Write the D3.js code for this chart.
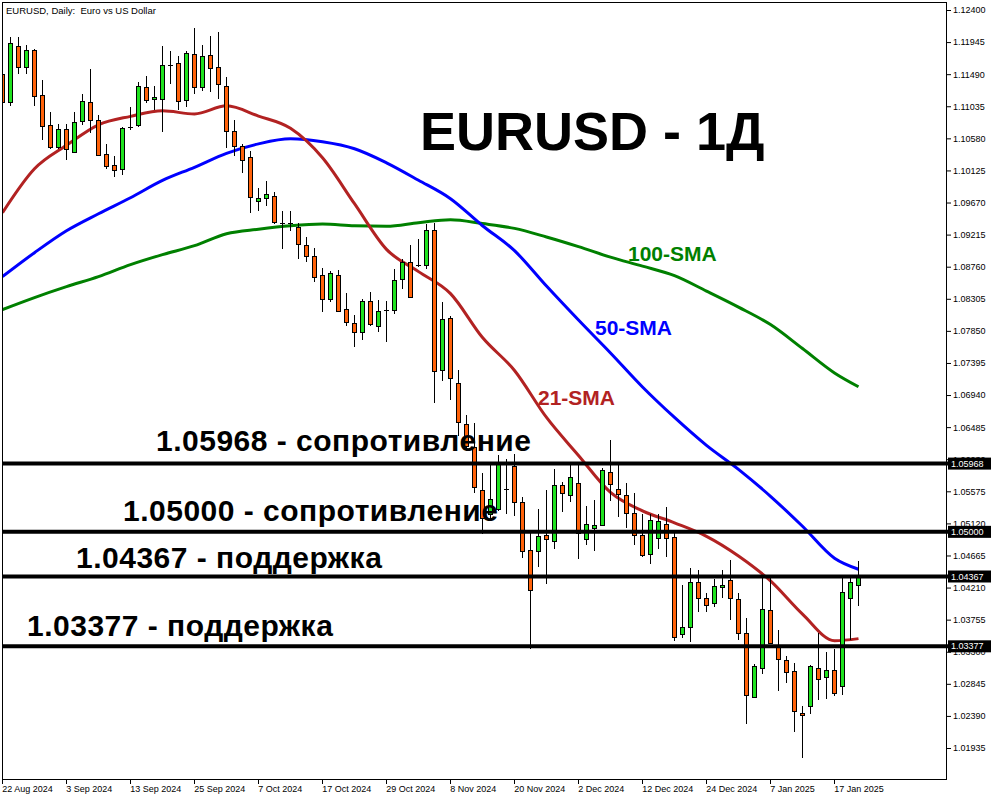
<!DOCTYPE html>
<html><head><meta charset="utf-8">
<script src="https://cdn.jsdelivr.net/npm/d3@7"></script>
<style>body{margin:0;background:#fff}svg{display:block}</style>
</head><body>
<svg id="c" width="1000" height="800"></svg>
<script>
// ---------- DATA ----------
const dates = [
"2024-08-22","2024-08-23","2024-08-26","2024-08-27","2024-08-28","2024-08-29","2024-08-30",
"2024-09-02","2024-09-03","2024-09-04","2024-09-05","2024-09-06","2024-09-09","2024-09-10","2024-09-11","2024-09-12","2024-09-13",
"2024-09-16","2024-09-17","2024-09-18","2024-09-19","2024-09-20","2024-09-23","2024-09-24","2024-09-25","2024-09-26","2024-09-27","2024-09-30",
"2024-10-01","2024-10-02","2024-10-03","2024-10-04","2024-10-07","2024-10-08","2024-10-09","2024-10-10","2024-10-11",
"2024-10-14","2024-10-15","2024-10-16","2024-10-17","2024-10-18","2024-10-21","2024-10-22","2024-10-23","2024-10-24","2024-10-25",
"2024-10-28","2024-10-29","2024-10-30","2024-10-31",
"2024-11-01","2024-11-04","2024-11-05","2024-11-06","2024-11-07","2024-11-08","2024-11-11","2024-11-12","2024-11-13","2024-11-14","2024-11-15",
"2024-11-18","2024-11-19","2024-11-20","2024-11-21","2024-11-22","2024-11-25","2024-11-26","2024-11-27","2024-11-28","2024-11-29",
"2024-12-02","2024-12-03","2024-12-04","2024-12-05","2024-12-06","2024-12-09","2024-12-10","2024-12-11","2024-12-12","2024-12-13",
"2024-12-16","2024-12-17","2024-12-18","2024-12-19","2024-12-20","2024-12-23","2024-12-24","2024-12-26","2024-12-27","2024-12-30","2024-12-31",
"2025-01-02","2025-01-03","2025-01-06","2025-01-07","2025-01-08","2025-01-09","2025-01-10","2025-01-13","2025-01-14","2025-01-15","2025-01-16","2025-01-17",
"2025-01-20","2025-01-21","2025-01-22"];

const opens = [
1.11494,1.11101,1.11886,1.11597,1.11829,1.11192,1.10767,1.10464,1.10711,1.10393,
1.10824,1.11093,1.10838,1.10357,1.10205,1.10139,1.10739,1.10767,1.11305,1.11135,
1.11144,1.11617,1.11649,1.11121,1.11777,1.11305,1.11759,1.11589,1.11320,1.10682,
1.10470,1.10314,1.09691,1.09733,1.09766,1.09374,1.09384,1.09323,1.09068,1.08912,
1.08643,1.08303,1.08643,1.08162,1.07963,1.07836,1.08275,1.07921,1.08147,1.08147,
1.08586,1.08827,1.08782,1.08785,1.09280,1.07298,1.08034,1.07114,1.06523,1.06207,
1.05599,1.05249,1.05329,1.05603,1.05933,1.05429,1.04749,1.04735,1.04961,1.04876,
1.05669,1.05528,1.05698,1.04905,1.05060,1.05103,1.05853,1.05613,1.05528,1.05273,
1.04961,1.04692,1.04919,1.05117,1.04933,1.03545,1.03644,1.04296,1.04055,1.03998,
1.04225,1.04324,1.04041,1.03559,1.02653,1.03064,1.03885,1.03389,1.03177,1.03021,
1.02426,1.02526,1.03064,1.02936,1.03035,1.02809,1.04055,1.04253];
const highs = [
1.11550,1.12022,1.12022,1.11904,1.11848,1.11409,1.10956,1.10781,1.10781,1.10956,
1.11210,1.11564,1.10909,1.10502,1.10333,1.10747,1.11022,1.11385,1.11461,1.11324,
1.11894,1.11819,1.11749,1.11819,1.12141,1.11904,1.12032,1.12088,1.11447,1.10842,
1.10498,1.10403,1.09875,1.09974,1.09818,1.09554,1.09554,1.09380,1.09186,1.09025,
1.08742,1.08704,1.08718,1.08388,1.08077,1.08307,1.08402,1.08289,1.08279,1.08728,
1.08870,1.09072,1.09153,1.09370,1.09380,1.08261,1.08062,1.07298,1.06651,1.06547,
1.05839,1.05943,1.06084,1.06028,1.06108,1.05489,1.05004,1.05329,1.05599,1.05896,
1.05712,1.05967,1.05981,1.05372,1.05457,1.05910,1.06307,1.05967,1.05698,1.05556,
1.05259,1.05259,1.05259,1.05358,1.05004,1.04243,1.04494,1.04466,1.04126,1.04328,
1.04466,1.04607,1.04126,1.03772,1.03120,1.04367,1.04367,1.03602,1.03234,1.03135,
1.02526,1.03106,1.03559,1.03290,1.03333,1.04367,1.04367,1.04593];
const lows = [
1.11069,1.11041,1.11494,1.11494,1.11041,1.10559,1.10422,1.10422,1.10266,1.10371,
1.10771,1.10662,1.10323,1.10139,1.10025,1.10054,1.10696,1.10739,1.11087,1.10984,
1.10677,1.11348,1.10984,1.11031,1.11210,1.11257,1.11243,1.11140,1.10450,1.10323,
1.10082,1.09521,1.09544,1.09615,1.09365,1.09011,1.09261,1.08874,1.08827,1.08544,
1.08119,1.08255,1.08119,1.07915,1.07624,1.07717,1.07921,1.07830,1.07689,1.08085,
1.08445,1.08315,1.08756,1.08728,1.06830,1.07136,1.06867,1.06353,1.06169,1.05556,
1.04966,1.05178,1.05291,1.05249,1.05225,1.04636,1.03337,1.04502,1.04267,1.04763,
1.05287,1.05429,1.04621,1.04820,1.04735,1.05079,1.05443,1.05216,1.05060,1.04820,
1.04650,1.04551,1.04763,1.04650,1.03455,1.03493,1.03432,1.03857,1.03857,1.03928,
1.04069,1.03743,1.03460,1.02271,1.02639,1.02979,1.03408,1.02746,1.02851,1.02157,
1.01798,1.02412,1.02611,1.02625,1.02667,1.02681,1.03460,1.03942];
const closes = [
1.11097,1.11928,1.11597,1.11829,1.11186,1.10762,1.10464,1.10711,1.10432,1.10810,
1.11107,1.10847,1.10337,1.10187,1.10130,1.10729,1.10739,1.11320,1.11121,1.11164,
1.11617,1.11617,1.11111,1.11791,1.11305,1.11749,1.11574,1.11348,1.10682,1.10470,
1.10272,1.09748,1.09728,1.09790,1.09388,1.09374,1.09384,1.09082,1.08912,1.08615,
1.08303,1.08666,1.08133,1.07978,1.07836,1.08275,1.07944,1.08133,1.08147,1.08572,
1.08827,1.08329,1.08782,1.09280,1.07284,1.08020,1.07185,1.06561,1.06212,1.05641,
1.05192,1.05461,1.05967,1.05603,1.05429,1.04735,1.04182,1.04947,1.04905,1.05669,
1.05556,1.05783,1.04990,1.05117,1.05103,1.05882,1.05683,1.05542,1.05273,1.04961,
1.04678,1.05174,1.05160,1.04919,1.03503,1.03644,1.04296,1.04069,1.03956,1.04239,
1.04253,1.04055,1.03559,1.02681,1.03092,1.03913,1.03418,1.03191,1.03007,1.02455,
1.02398,1.03092,1.02908,1.03035,1.02710,1.04154,1.04282,1.04367];

// moving averages read at these bar indices
const smaIdx = [0,4,8,12,16,20,24,28,32,36,40,44,48,52,56,60,64,68,72,76,80,84,88,92,96,100,104,107];
const sma21  = [1.09525,1.10148,1.10481,1.10772,1.10892,1.10970,1.10927,1.11041,1.10895,1.10722,
                1.10304,1.09653,1.09006,1.08690,1.08378,1.07755,1.07288,1.06622,1.06084,1.05560,
                1.05298,1.05128,1.04937,1.04658,1.04304,1.03833,1.03457,1.03486];
const sma50  = [1.08619,1.08959,1.09270,1.09511,1.09738,1.09983,1.10170,1.10368,1.10502,1.10573,
                1.10531,1.10432,1.10233,1.09986,1.09724,1.09341,1.08987,1.08485,1.08003,1.07536,
                1.07054,1.06622,1.06226,1.05886,1.05504,1.05079,1.04626,1.04470];
const sma100 = [1.08152,1.08322,1.08477,1.08619,1.08789,1.08931,1.09058,1.09228,1.09292,1.09341,
                1.09365,1.09341,1.09334,1.09384,1.09426,1.09372,1.09303,1.09181,1.09044,1.08895,
                1.08768,1.08633,1.08414,1.08187,1.07939,1.07599,1.07253,1.07057];

const yTicks = [1.12400,1.11945,1.11490,1.11035,1.10580,1.10125,1.09670,1.09215,1.08760,1.08305,
                1.07850,1.07395,1.06940,1.06485,1.06030,1.05575,1.05120,1.04665,1.04210,1.03755,
                1.03300,1.02845,1.02390,1.01935];
const xTickIdx = [0,8,16,24,32,40,48,56,64,72,80,88,96,104];
const xTickLabels = ["22 Aug 2024","3 Sep 2024","13 Sep 2024","25 Sep 2024","7 Oct 2024","17 Oct 2024",
  "29 Oct 2024","8 Nov 2024","20 Nov 2024","2 Dec 2024","12 Dec 2024","24 Dec 2024","7 Jan 2025","17 Jan 2025"];

const levels = [1.05968, 1.05000, 1.04367, 1.03377];
const levelLabels = ["1.05968 - сопротивление","1.05000 - сопротивление","1.04367 - поддержка","1.03377 - поддержка"];
const smaNames = ["21-SMA","50-SMA","100-SMA"];
const chartTitle = "EURUSD - 1Д";
const chartSubtitle = "EURUSD, Daily:  Euro vs US Dollar";

// ---------- STYLE / LAYOUT ----------
const BULL = "#1fe21f", BEAR = "#ff620a";
const SMA_COLORS = ["#b22222", "#0000ff", "#008000"];
const levelLabelPos = [[156, 440], [123, 510], [76, 557], [27, 625]];
const smaLabelPos = [[538, 397], [595, 327], [628, 253]];

const svg = d3.select("#c");
svg.append("rect").attr("width", 1000).attr("height", 800).attr("fill", "#fff");

const x = d3.scaleBand().domain(dates).range([-1.5, -1.5 + 8 * dates.length]).padding(0);
const cx = d => x(d) + x.bandwidth() / 2;
const y = d3.scaleLinear().domain([1.12400, 1.01935]).range([10, 748]);

svg.append("defs").append("clipPath").attr("id", "plot")
  .append("rect").attr("x", 3).attr("y", 3).attr("width", 943).attr("height", 776);
const g = svg.append("g").attr("clip-path", "url(#plot)");

// moving averages
const line = d3.line().x(p => cx(dates[p[0]])).y(p => y(p[1])).curve(d3.curveMonotoneX);
[[sma100, SMA_COLORS[2]], [sma50, SMA_COLORS[1]], [sma21, SMA_COLORS[0]]].forEach(([arr, col]) => {
  g.append("path").datum(smaIdx.map((k, j) => [k, arr[j]]))
    .attr("d", line).attr("fill", "none").attr("stroke", col).attr("stroke-width", 3)
    .attr("stroke-linejoin", "round");
});

// candles
const bars = dates.map((d, i) => ({ d, o: opens[i], h: highs[i], l: lows[i], c: closes[i] }));
const cg = g.append("g").attr("shape-rendering", "crispEdges");
cg.selectAll("line.wick").data(bars).join("line").attr("class", "wick")
  .attr("x1", b => cx(b.d)).attr("x2", b => cx(b.d))
  .attr("y1", b => Math.round(y(b.h))).attr("y2", b => Math.round(y(b.l)))
  .attr("stroke", "#000").attr("stroke-width", 1);
cg.selectAll("rect.body").data(bars.filter(b => b.o !== b.c)).join("rect").attr("class", "body")
  .attr("x", b => cx(b.d) - 2).attr("width", 4)
  .attr("y", b => Math.round(y(Math.max(b.o, b.c))) + 0.5)
  .attr("height", b => Math.max(1, Math.round(y(Math.min(b.o, b.c))) - Math.round(y(Math.max(b.o, b.c)))))
  .attr("fill", b => b.c > b.o ? BULL : BEAR)
  .attr("stroke", "#000").attr("stroke-width", 1);
cg.selectAll("line.doji").data(bars.filter(b => b.o === b.c)).join("line").attr("class", "doji")
  .attr("x1", b => cx(b.d) - 2.5).attr("x2", b => cx(b.d) + 2.5)
  .attr("y1", b => Math.round(y(b.o)) + 0.5).attr("y2", b => Math.round(y(b.o)) + 0.5)
  .attr("stroke", "#000").attr("stroke-width", 1);

// frame
svg.append("rect").attr("x", 2.5).attr("y", 2.5).attr("width", 944).attr("height", 776.5)
  .attr("fill", "none").attr("stroke", "#000").attr("stroke-width", 1).attr("shape-rendering", "crispEdges");

// axes
const yAxis = d3.axisRight(y).tickValues(yTicks).tickSize(5).tickPadding(2).tickFormat(d3.format(".5f"));
const ya = svg.append("g").attr("transform", "translate(946,0)").call(yAxis);
ya.select(".domain").remove();
ya.selectAll("text").attr("font-family", "'Liberation Sans', Arial, sans-serif").attr("font-size", 9).attr("fill", "#000");

const xAxis = d3.axisBottom(x).tickValues(xTickIdx.map(i => dates[i]))
  .tickFormat((d, j) => xTickLabels[j]).tickSize(5).tickPadding(2);
const xa = svg.append("g").attr("transform", "translate(0,779)").call(xAxis);
xa.select(".domain").remove();
xa.selectAll("text").attr("text-anchor", "start").attr("dx", "-0.3")
  .attr("font-family", "'Liberation Sans', Arial, sans-serif").attr("font-size", 9).attr("fill", "#000");

// levels
const lv = svg.append("g");
lv.selectAll("line").data(levels).join("line")
  .attr("x1", 3).attr("x2", 949).attr("y1", d => y(d)).attr("y2", d => y(d))
  .attr("stroke", "#000").attr("stroke-width", 4);
lv.selectAll("rect").data(levels).join("rect")
  .attr("x", 948).attr("width", 43).attr("y", d => y(d) - 6).attr("height", 12).attr("fill", "#000");
lv.selectAll("text").data(levels).join("text")
  .attr("x", 951).attr("y", d => y(d)).attr("dy", "0.35em")
  .attr("font-family", "'Liberation Sans', Arial, sans-serif").attr("font-size", 9).attr("fill", "#fff")
  .text(d => d3.format(".5f")(d));

// level labels
svg.append("g").selectAll("text").data(levelLabels).join("text")
  .attr("x", (d, i) => levelLabelPos[i][0]).attr("y", (d, i) => levelLabelPos[i][1]).attr("dy", "0.36em")
  .attr("font-family", "'Liberation Sans', Arial, sans-serif").attr("font-weight", "bold")
  .attr("font-size", 30).attr("letter-spacing", "0.5px").attr("fill", "#000").text(d => d);

// sma labels
svg.append("g").selectAll("text").data(smaNames).join("text")
  .attr("x", (d, i) => smaLabelPos[i][0]).attr("y", (d, i) => smaLabelPos[i][1]).attr("dy", "0.36em")
  .attr("font-family", "'Liberation Sans', Arial, sans-serif").attr("font-weight", "bold")
  .attr("font-size", 21).attr("fill", (d, i) => SMA_COLORS[i]).text(d => d);

// titles
svg.append("text").attr("x", 420).attr("y", 150)
  .attr("font-family", "'Liberation Sans', Arial, sans-serif").attr("font-weight", "bold")
  .attr("font-size", 54).attr("fill", "#000").text(chartTitle);
svg.append("text").attr("x", 6).attr("y", 13.5)
  .attr("font-family", "'Liberation Sans', Arial, sans-serif")
  .attr("font-size", 9.5).attr("fill", "#000").attr("xml:space", "preserve").style("white-space", "pre").text(chartSubtitle);
</script>
</body></html>
